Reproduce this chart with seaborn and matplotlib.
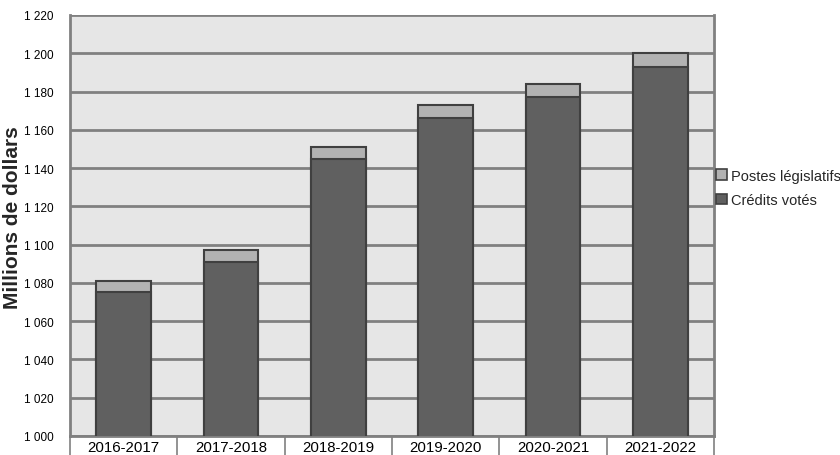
import matplotlib
matplotlib.use("Agg")
import matplotlib.pyplot as plt
import seaborn as sns
import pandas as pd
from matplotlib.patches import Patch
from matplotlib.ticker import FixedLocator, FuncFormatter

years = ["2016-2017", "2017-2018", "2018-2019", "2019-2020", "2020-2021", "2021-2022"]
credits_votes = [1075, 1091, 1145, 1166, 1177, 1193]
postes_legislatifs = [6, 6, 6, 7, 7, 7]

totals = [v + s for v, s in zip(credits_votes, postes_legislatifs)]
df = pd.DataFrame({"year": years, "votes": credits_votes, "total": totals})

sns.set_theme(style="white")
plt.rcParams["font.family"] = ["Liberation Sans", "DejaVu Sans"]

fig = plt.figure(figsize=(8.4, 4.56), dpi=100)
ax = fig.add_axes([70/840, 19/456, (714-70)/840, (437-16)/456])
ax.set_facecolor("#e6e6e6")

light = "#b2b2b2"
dark = "#606060"
edge = "#404040"

sns.barplot(data=df, x="year", y="total", color=light, saturation=1, width=0.51,
            edgecolor=edge, linewidth=1.5, ax=ax, zorder=3)
sns.barplot(data=df, x="year", y="votes", color=dark, saturation=1, width=0.51,
            edgecolor=edge, linewidth=1.5, ax=ax, zorder=4)

ax.set_ylim(1000, 1220)
ax.set_xlim(-0.5, len(years) - 0.5)
ax.yaxis.set_major_locator(FixedLocator(list(range(1000, 1221, 20))))
ax.yaxis.set_major_formatter(FuncFormatter(lambda v, p: f"{int(v):,}".replace(",", " ")))
ax.grid(axis="y", color="#808080", linewidth=2, zorder=1)
ax.set_axisbelow(True)

ax.spines["top"].set_visible(False)
for s in ["left", "bottom", "right"]:
    ax.spines[s].set_color("#808080")
    ax.spines[s].set_linewidth(2)

ax.tick_params(axis="y", left=False, length=0, pad=12, labelsize=8.5, labelcolor="black")
ax.tick_params(axis="x", which="major", bottom=False, length=0, pad=3, labelsize=10.8, labelcolor="black")
ax.xaxis.set_minor_locator(FixedLocator([i - 0.5 for i in range(len(years) + 1)]))
ax.tick_params(axis="x", which="minor", bottom=True, length=20, width=1.2, color="#808080", direction="out")

ax.set_xlabel("")
ax.set_ylabel("")
fig.text(13/840, 1 - 218/456, "Millions de dollars", rotation=90, ha="center", va="center",
         fontsize=15, fontweight="bold")

handles = [Patch(facecolor=light, edgecolor=edge, linewidth=1.2, label="Postes législatifs"),
           Patch(facecolor=dark, edgecolor=edge, linewidth=1.2, label="Crédits votés")]
fig.legend(handles=handles, loc="center left", bbox_to_anchor=(715/840, 1 - 189/456),
           frameon=False, fontsize=10.5, handlelength=0.7, handleheight=0.7,
           handletextpad=0.3, borderaxespad=0, borderpad=0.1, labelspacing=0.75)

fig.savefig("out.png", dpi=100)
